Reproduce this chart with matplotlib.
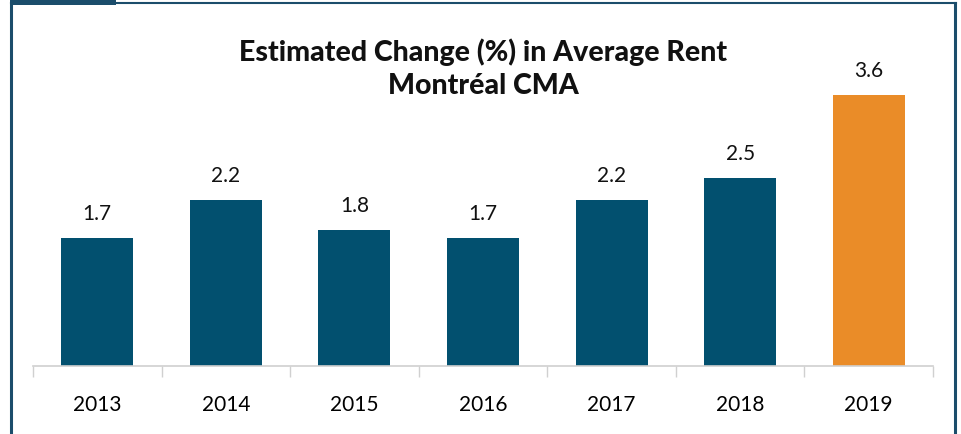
import matplotlib.pyplot as plt
from matplotlib.lines import Line2D
from matplotlib.patches import Rectangle

plt.rcParams['font.family'] = ['Lato', 'DejaVu Sans']

years = ['2013', '2014', '2015', '2016', '2017', '2018', '2019']
change = [1.7, 2.2, 1.8, 1.7, 2.2, 2.5, 3.6]
bar_colors = ['#02506f'] * 6 + ['#ea8c28']
frame_color = '#1b4d6b'

fig = plt.figure(figsize=(9.61, 4.35), dpi=100)
ax = fig.add_axes([33 / 961, 68 / 435, 900 / 961, 0.8])

x = range(len(years))
ax.bar(x, change, width=0.56, color=bar_colors)
for i, v in enumerate(change):
    ax.text(i, v + 0.2, '%.1f' % v, ha='center', va='bottom', fontsize=15, color='#111111')

ax.set_xlim(-0.5, len(years) - 0.5)
ax.set_ylim(0, 4.62)
ax.set_yticks([])
ax.set_xticks([i - 0.5 for i in range(len(years) + 1)], minor=False)
ax.set_xticklabels([])
ax.set_xticks(list(x), minor=True)
ax.set_xticklabels(years, minor=True, fontsize=15)
ax.tick_params(axis='x', which='major', length=8, color='#d0d0d0', width=1)
ax.tick_params(axis='x', which='minor', length=0, pad=20)
for s in ['top', 'right', 'left']:
    ax.spines[s].set_visible(False)
ax.spines['bottom'].set_color('#d0d0d0')
ax.spines['bottom'].set_linewidth(1.2)

fig.text(483 / 961, 1 - 52 / 435, 'Estimated Change (%) in Average Rent', ha='center', va='center',
         fontsize=20.5, fontweight='black', color='#111111')
fig.text(483 / 961, 1 - 86 / 435, 'Montréal CMA', ha='center', va='center',
         fontsize=20.5, fontweight='black', color='#111111')

# frame around the chart
fig.add_artist(Line2D([11 / 961, 11 / 961], [0, 1 - 4 / 435], transform=fig.transFigure, color=frame_color, lw=2.2))
fig.add_artist(Line2D([955 / 961, 955 / 961], [0, 1 - 4 / 435], transform=fig.transFigure, color=frame_color, lw=2.2))
fig.add_artist(Line2D([11 / 961, 956 / 961], [1 - 4 / 435, 1 - 4 / 435], transform=fig.transFigure, color=frame_color, lw=1.5))
fig.add_artist(Rectangle((10 / 961, 1 - 6 / 435), 106 / 961, 6 / 435, transform=fig.transFigure,
                         color=frame_color, lw=0))

fig.savefig('out.png', dpi=100)
